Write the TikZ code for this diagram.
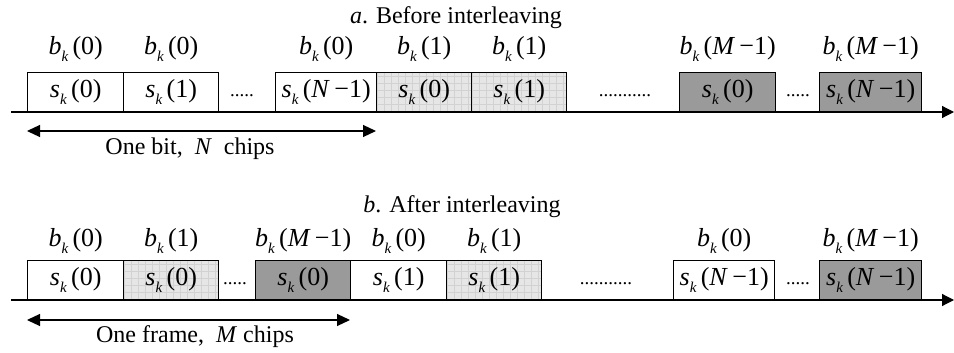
\documentclass[tikz,border=0pt]{standalone}
\usepackage{fontspec}
\setmainfont{Liberation Serif}
\usetikzlibrary{arrows.meta}
\definecolor{lightfill}{HTML}{E6E6E6}
\definecolor{gridline}{HTML}{D2D2D2}
\definecolor{darkfill}{HTML}{9A9A9A}
\newcommand{\kksub}{\raisebox{-0.25em}{\fontsize{15}{15}\selectfont\itshape k}}
\newcommand{\bsym}[1]{{\fontsize{26}{28}\selectfont\textit{b}\kksub\,(#1)}}
\newcommand{\ssym}[1]{{\fontsize{26}{28}\selectfont\textit{s}\kksub\,(#1)}}
\newcommand{\mmone}{\textit{M}\,−1}
\newcommand{\nnone}{\textit{N}\,−1}
\begin{document}
\begin{tikzpicture}[x=1pt,y=-1pt,
  every node/.style={font=\fontsize{24}{27}\selectfont, inner sep=0pt},
  chip/.style={draw, line width=1.4pt, minimum height=39pt, fill=white},
  light/.style={chip, fill=lightfill, path picture={\draw[gridline, line width=0.5pt, step=7pt] (path picture bounding box.south west) grid (path picture bounding box.north east);}},
  dark/.style={chip, fill=darkfill},
  dotsx/.style={font=\fontsize{19}{20}\selectfont},
  axisline/.style={line width=1.2pt, -{Triangle[length=12pt,width=12pt]}},
  span/.style={line width=1.2pt, {Triangle[length=13pt,width=12pt]}-{Triangle[length=13pt,width=12pt]}}
]
\useasboundingbox (0,0) rectangle (954,353);
% ---------- a ----------
\node (ta) at (456,18) {\textit{a}. Before interleaving};
\coordinate (ax0) at (11,112);
\coordinate (ax1) at (954,112);
\draw[axisline] (ax0) -- (ax1);
\node[chip, minimum width=96pt, anchor=south west] (a1) at (27,112) {\ssym{0}};
\node[chip, minimum width=95pt, anchor=south west] (a2) at (123,112) {\ssym{1}};
\node[dotsx] (ad1) at (242,96) {.....};
\node[chip, minimum width=101pt, anchor=south west] (a3) at (275,112) {\ssym{\nnone}};
\node[light, minimum width=95pt, anchor=south west] (a4) at (376,112) {\ssym{0}};
\node[light, minimum width=95pt, anchor=south west] (a5) at (471,112) {\ssym{1}};
\node[dotsx] (ad2) at (625,96) {...........};
\node[dark, minimum width=96pt, anchor=south west] (a6) at (679,112) {\ssym{0}};
\node[dotsx] (ad3) at (798,96) {.....};
\node[dark, minimum width=102pt, anchor=south west] (a7) at (819,112) {\ssym{\nnone}};
\node (ab1) at (a1.center |- 0,49) {\bsym{0}};
\node (ab2) at (a2.center |- 0,49) {\bsym{0}};
\node (ab3) at (a3.center |- 0,49) {\bsym{0}};
\node (ab4) at (a4.center |- 0,49) {\bsym{1}};
\node (ab5) at (a5.center |- 0,49) {\bsym{1}};
\node (ab6) at (a6.center |- 0,49) {\bsym{\mmone}};
\node (ab7) at (a7.center |- 0,49) {\bsym{\mmone}};
\coordinate (as0) at (27,131);
\coordinate (as1) at (376,131);
\draw[span] (as0) -- (as1);
\node (al) at (190,149) {One bit,\ \ \textit{N}\ \ chips};
% ---------- b ----------
\node (tb) at (462,207) {\textit{b}. After interleaving};
\coordinate (bx0) at (11,300);
\coordinate (bx1) at (954,300);
\draw[axisline] (bx0) -- (bx1);
\node[chip, minimum width=96pt, anchor=south west] (b1) at (27,300) {\ssym{0}};
\node[light, minimum width=95pt, anchor=south west] (b2) at (123,300) {\ssym{0}};
\node[dotsx] (bd1) at (235,284) {.....};
\node[dark, minimum width=95pt, anchor=south west] (b3) at (255,300) {\ssym{0}};
\node[chip, minimum width=96pt, anchor=south west] (b4) at (350,300) {\ssym{1}};
\node[light, minimum width=95pt, anchor=south west] (b5) at (446,300) {\ssym{1}};
\node[dotsx] (bd2) at (606,284) {...........};
\node[chip, minimum width=101pt, anchor=south west] (b6) at (673,300) {\ssym{\nnone}};
\node[dotsx] (bd3) at (798,284) {.....};
\node[dark, minimum width=102pt, anchor=south west] (b7) at (819,300) {\ssym{\nnone}};
\node (bb1) at (b1.center |- 0,241) {\bsym{0}};
\node (bb2) at (b2.center |- 0,241) {\bsym{1}};
\node (bb3) at (b3.center |- 0,241) {\bsym{\mmone}};
\node (bb4) at (b4.center |- 0,241) {\bsym{0}};
\node (bb5) at (b5.center |- 0,241) {\bsym{1}};
\node (bb6) at (b6.center |- 0,241) {\bsym{0}};
\node (bb7) at (b7.center |- 0,241) {\bsym{\mmone}};
\coordinate (bs0) at (27,320);
\coordinate (bs1) at (350,320);
\draw[span] (bs0) -- (bs1);
\node (bl) at (195,337) {One frame,\ \ \textit{M} chips};
\end{tikzpicture}
\end{document}
